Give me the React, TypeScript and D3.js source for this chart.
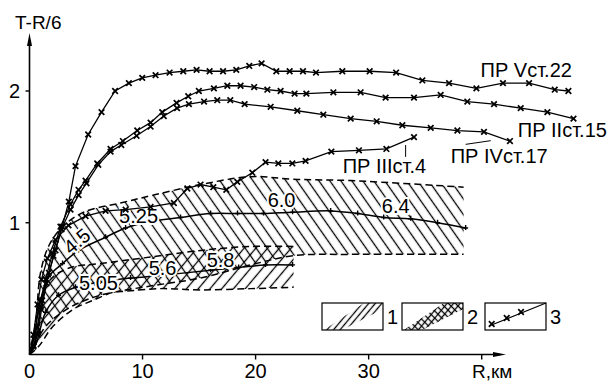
import React, { useEffect, useRef } from 'react';
import * as d3 from 'd3';

type Pt = [number, number];

const W = 613;
const H = 385;

// Travel-time profiles: [R, km ; T - R/6, s]
const prV22: Pt[] = [[0, 0], [0.68, 0.21], [1.12, 0.41], [1.71, 0.62], [2.3, 0.79], [2.89, 0.97], [3.48, 1.16], [4.07, 1.43], [5.19, 1.67], [6.37, 1.84], [7.57, 2.0], [8.79, 2.06], [9.97, 2.1], [11.15, 2.12], [12.39, 2.14], [13.6, 2.15], [14.78, 2.16], [15.93, 2.15], [17.12, 2.15], [18.29, 2.16], [19.44, 2.19], [20.53, 2.21], [21.83, 2.15], [23.01, 2.15], [24.19, 2.15], [25.34, 2.14], [27.67, 2.15], [30.09, 2.15], [32.43, 2.14], [34.75, 2.08], [37.11, 2.06], [39.53, 2.02], [41.88, 2.06], [44.19, 2.06], [46.46, 2.01], [47.67, 2.0]];

const prII15: Pt[] = [[0, 0], [0.35, 0.07], [0.71, 0.16], [0.97, 0.36], [1.42, 0.57], [2.04, 0.77], [2.74, 0.97], [3.63, 1.14], [4.34, 1.25], [4.96, 1.32], [5.99, 1.45], [7.17, 1.56], [8.26, 1.62], [9.53, 1.7], [10.71, 1.76], [11.74, 1.84], [13.01, 1.91], [14.04, 1.96], [14.98, 2.0], [16.31, 2.02], [17.5, 2.04], [18.67, 2.04], [19.87, 2.03], [21.04, 2.01], [22.21, 2.0], [23.45, 1.98], [24.49, 1.98], [26.88, 1.99], [29.29, 1.99], [31.5, 1.95], [34.01, 1.95], [36.37, 1.97], [38.73, 1.92], [41.09, 1.9], [43.45, 1.87], [45.81, 1.84], [48.12, 1.79]];

const prIV17: Pt[] = [[0, 0], [0.35, 0.06], [0.71, 0.15], [1.06, 0.34], [1.5, 0.54], [2.12, 0.75], [2.83, 0.95], [3.63, 1.1], [4.34, 1.21], [5.04, 1.3], [6.08, 1.44], [7.17, 1.54], [8.12, 1.59], [9.47, 1.66], [10.71, 1.73], [11.88, 1.81], [13.05, 1.87], [14.1, 1.9], [15.44, 1.92], [16.61, 1.93], [17.76, 1.93], [19.03, 1.9], [21.33, 1.88], [23.69, 1.85], [25.99, 1.82], [28.41, 1.79], [30.71, 1.77], [32.98, 1.74], [35.49, 1.72], [37.85, 1.7], [40.2, 1.69], [42.5, 1.62]];

const prIII4: Pt[] = [[0, 0], [0.35, 0.15], [0.71, 0.38], [1.06, 0.57], [1.59, 0.73], [2.3, 0.87], [3.45, 0.98], [4.96, 1.05], [6.73, 1.09], [8.5, 1.1], [10.71, 1.12], [12.77, 1.15], [13.96, 1.26], [15.13, 1.29], [16.26, 1.27], [17.41, 1.25], [18.38, 1.31], [19.71, 1.38], [20.88, 1.46], [22.01, 1.45], [23.25, 1.45], [24.42, 1.47], [26.7, 1.54], [29.14, 1.55], [31.57, 1.56], [34.01, 1.65]];

// Field 1 (upper band)
const band1Upper: Pt[] = [[0, 0], [0.53, 0.21], [0.71, 0.41], [0.97, 0.62], [1.68, 0.82], [2.92, 0.97], [4.78, 1.08], [8.05, 1.15], [10.97, 1.21], [15.13, 1.29], [19.56, 1.35], [23.36, 1.33], [28.41, 1.32], [38.4, 1.27]];
const band1Axis: Pt[] = [[0, 0], [0.35, 0.11], [0.97, 0.41], [1.68, 0.59], [2.92, 0.69], [4.34, 0.79], [6.73, 0.89], [8.5, 0.96], [10.7, 1.01], [13.36, 1.04], [16.02, 1.07], [18.4, 1.07], [20.7, 1.07], [23.27, 1.08], [26.64, 1.09], [29.03, 1.07], [31.33, 1.04], [33.72, 1.03], [36.1, 1.0], [38.58, 0.96]];
const band1Lower: Pt[] = [[0, 0], [0.5, 0.08], [1.5, 0.22], [3.63, 0.36], [6.28, 0.45], [10.7, 0.52], [15.13, 0.58], [19.56, 0.68], [23.36, 0.75], [28.41, 0.76], [38.4, 0.76]];

// Field 2 (lower band)
const band2Upper: Pt[] = [[0, 0], [0.35, 0.15], [0.97, 0.41], [1.86, 0.57], [3.63, 0.66], [6.28, 0.69], [10.7, 0.74], [15.13, 0.79], [19.56, 0.82], [23.36, 0.82]];
const band2Axis: Pt[] = [[0, 0], [0.53, 0.07], [1.42, 0.32], [2.57, 0.45], [4.07, 0.51], [6.28, 0.55], [8.94, 0.58], [11.59, 0.6], [16.02, 0.64], [18.5, 0.66], [20.88, 0.68], [23.27, 0.68]];
const band2Lower: Pt[] = [[0, 0], [0.8, 0.06], [2.04, 0.21], [3.81, 0.34], [5.58, 0.41], [7.35, 0.47], [8.5, 0.48], [11.59, 0.5], [15.13, 0.49], [19.56, 0.5], [23.36, 0.51]];

// Velocity labels along the band axes: [text, R, T, rotation]
const band1Labels: [string, number, number, number][] = [['4.5', 4.2, 0.86, -40], ['5.25', 9.65, 1.05, 0], ['6.0', 22.3, 1.17, 0], ['6.4', 32.39, 1.127, 0]];
const band2Labels: [string, number, number, number][] = [['5.05', 6.1, 0.543, 0], ['5.6', 11.77, 0.656, 0], ['5.8', 16.9, 0.717, 0]];

// Profile names: [text, R, T]
const profileNames: [string, number, number][] = [['ПР Vст.22', 39.9, 2.106], ['ПР IIст.15', 43.19, 1.651], ['ПР IVст.17', 37.26, 1.454], ['ПР IIIст.4', 27.7, 1.378]];

const xTicks = [0, 10, 20, 30];
const xTickMarks = [10, 20, 30, 40];
const yTicks = [1, 2];

const FONT = "'Liberation Sans', Arial, sans-serif";

export default function App() {
  const ref = useRef<SVGSVGElement | null>(null);

  useEffect(() => {
    const svg = d3.select(ref.current);
    svg.selectAll('*').remove();

    const x = d3.scaleLinear().domain([0, 40]).range([29.5, 481.7]);
    const y = d3.scaleLinear().domain([0, 2]).range([354.5, 91]);

    const defs = svg.append('defs');
    const mkPattern = (id: string, angle: number, step: number) => {
      const p = defs.append('pattern')
        .attr('id', id)
        .attr('patternUnits', 'userSpaceOnUse')
        .attr('width', step)
        .attr('height', step)
        .attr('patternTransform', `rotate(${angle})`);
      p.append('line').attr('x1', step / 2).attr('y1', 0).attr('x2', step / 2).attr('y2', step)
        .attr('stroke', '#000').attr('stroke-width', 1.3);
    };
    mkPattern('hatchBack', -35, 9);
    mkPattern('hatchFwd', 40, 9);
    mkPattern('hatchSmall', 40, 5);
    mkPattern('hatchSmallBack', -45, 5);

    const smooth = d3.line<Pt>().x(d => x(d[0])).y(d => y(d[1])).curve(d3.curveCatmullRom.alpha(0.5));
    const straight = d3.line<Pt>().x(d => x(d[0])).y(d => y(d[1]));

    const bandPath = (upper: Pt[], lower: Pt[]) => {
      const a = smooth(upper) as string;
      const b = (smooth(lower.slice().reverse()) as string).replace(/^M/, 'L');
      return a + b + 'Z';
    };

    const g = svg.append('g');

    // hatched fields
    g.append('path').attr('d', bandPath(band1Upper, band1Lower)).attr('fill', 'url(#hatchBack)');
    g.append('path').attr('d', bandPath(band2Upper, band2Lower)).attr('fill', 'url(#hatchFwd)');

    // dashed field borders
    [band1Upper, band1Lower, band2Upper, band2Lower].forEach(b => {
      g.append('path').attr('d', smooth(b) as string)
        .attr('fill', 'none').attr('stroke', '#000').attr('stroke-width', 1.5)
        .attr('stroke-dasharray', '7,4');
    });

    // band axes with small tick marks
    [band1Axis, band2Axis].forEach(b => {
      g.append('path').attr('d', smooth(b) as string)
        .attr('fill', 'none').attr('stroke', '#000').attr('stroke-width', 1.5);
      g.selectAll(null).data(b.slice(2, b.length)).enter().append('path')
        .attr('d', d => {
          const px = x(d[0]), py = y(d[1]);
          return `M${px - 2.5},${py}L${px + 2.5},${py}M${px},${py - 3}L${px},${py + 2}`;
        })
        .attr('stroke', '#000').attr('stroke-width', 1.4);
    });

    // band labels
    [...band1Labels, ...band2Labels].forEach(([t, r, v, rot]) => {
      g.append('text')
        .attr('transform', `translate(${x(r)},${y(v)}) rotate(${rot})`)
        .attr('text-anchor', 'middle')
        .attr('dominant-baseline', 'central')
        .attr('font-family', FONT)
        .attr('font-size', 20)
        .attr('stroke', '#fff').attr('stroke-width', 4).attr('paint-order', 'stroke')
        .attr('fill', '#000')
        .text(t);
    });

    // profiles with cross markers
    const cross = (px: number, py: number, s = 2.8) =>
      `M${px - s},${py - s}L${px + s},${py + s}M${px - s},${py + s}L${px + s},${py - s}`;
    [prV22, prII15, prIV17, prIII4].forEach(p => {
      g.append('path').attr('d', straight(p) as string)
        .attr('fill', 'none').attr('stroke', '#000').attr('stroke-width', 1.3);
      g.selectAll(null).data(p.slice(1)).enter().append('path')
        .attr('d', d => cross(x(d[0]), y(d[1])))
        .attr('stroke', '#000').attr('stroke-width', 1.7);
    });

    // leader lines to profile names
    g.append('line').attr('x1', x(33.27)).attr('y1', y(1.59)).attr('x2', x(33.27)).attr('y2', y(1.5))
      .attr('stroke', '#000').attr('stroke-width', 1);
    g.append('line').attr('x1', x(38.58)).attr('y1', y(1.595)).attr('x2', x(40.8)).attr('y2', y(1.623))
      .attr('stroke', '#000').attr('stroke-width', 1);

    profileNames.forEach(([t, r, v]) => {
      g.append('text').attr('x', x(r)).attr('y', y(v))
        .attr('font-family', FONT).attr('font-size', 20).attr('fill', '#000')
        .text(t);
    });

    // axes
    const ax = svg.append('g');
    const x0 = x(0), y0 = y(0);
    ax.append('line').attr('x1', x0).attr('y1', y0).attr('x2', 500).attr('y2', y0)
      .attr('stroke', '#000').attr('stroke-width', 1.6);
    ax.append('path').attr('d', `M506,${y0}L493,${y0 - 2.5}L493,${y0 + 2.5}Z`).attr('fill', '#000');
    ax.append('line').attr('x1', x0).attr('y1', y0).attr('x2', x0).attr('y2', 42)
      .attr('stroke', '#000').attr('stroke-width', 1.6);
    ax.append('path').attr('d', `M${x0},33L${x0 - 2.5},46L${x0 + 2.5},46Z`).attr('fill', '#000');

    xTickMarks.forEach(t => {
      ax.append('line').attr('x1', x(t)).attr('x2', x(t)).attr('y1', y0).attr('y2', y0 + 5)
        .attr('stroke', '#000').attr('stroke-width', 1.4);
    });
    xTicks.forEach(t => {
      ax.append('text').attr('x', x(t)).attr('y', 378)
        .attr('text-anchor', 'middle').attr('font-family', FONT).attr('font-size', 20)
        .text(String(t));
    });
    ax.append('text').attr('x', 472).attr('y', 378)
      .attr('font-family', FONT).attr('font-size', 19).text('R,км');

    yTicks.forEach(t => {
      ax.append('line').attr('x1', x0 - 4).attr('x2', x0).attr('y1', y(t)).attr('y2', y(t))
        .attr('stroke', '#000').attr('stroke-width', 1.4);
      ax.append('text').attr('x', 20).attr('y', y(t)).attr('dy', '0.36em')
        .attr('text-anchor', 'end').attr('font-family', FONT).attr('font-size', 20)
        .text(String(t));
    });
    ax.append('text').attr('x', 15).attr('y', 29)
      .attr('font-family', FONT).attr('font-size', 19).text('T-R/6');

    // legend
    const lg = svg.append('g');
    const boxes = [
      { x: 322, label: '1' },
      { x: 402, label: '2' },
      { x: 485, label: '3' },
    ];
    boxes.forEach((b, i) => {
      lg.append('rect').attr('x', b.x).attr('y', 303).attr('width', 61).attr('height', 27)
        .attr('fill', '#fff').attr('stroke', '#000').attr('stroke-width', 1.2);
      lg.append('text').attr('x', b.x + 65).attr('y', 324)
        .attr('font-family', FONT).attr('font-size', 20).text(b.label);
      const strip = `M${b.x + 2},330L${b.x + 20},330L${b.x + 61},309L${b.x + 61},303L${b.x + 42},303Z`;
      if (i === 0) {
        lg.append('path').attr('d', strip).attr('fill', 'url(#hatchSmall)');
      } else if (i === 1) {
        lg.append('path').attr('d', strip).attr('fill', 'url(#hatchSmall)');
        lg.append('path').attr('d', strip).attr('fill', 'url(#hatchSmallBack)');
      } else {
        lg.append('line').attr('x1', b.x + 4).attr('y1', 326).attr('x2', b.x + 61).attr('y2', 303)
          .attr('stroke', '#000').attr('stroke-width', 1.2);
        [[b.x + 6.7, 324], [b.x + 21.7, 318], [b.x + 36, 312]].forEach(([px, py]) => {
          lg.append('path').attr('d', cross(px, py)).attr('stroke', '#000').attr('stroke-width', 1.7);
        });
      }
    });
  }, []);

  return (
    <svg
      ref={ref}
      width={W}
      height={H}
      viewBox={`0 0 ${W} ${H}`}
      style={{ position: 'fixed', left: 0, top: 0, background: '#fff' }}
    />
  );
}
